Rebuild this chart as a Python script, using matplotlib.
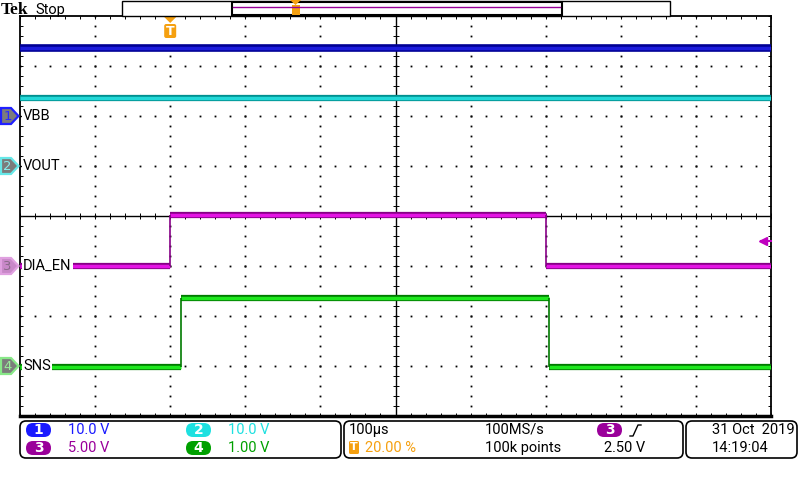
import matplotlib
matplotlib.use('Agg')
import matplotlib.pyplot as plt
import matplotlib.transforms as mtransforms
from matplotlib.patches import Polygon, FancyBboxPatch, Rectangle
import numpy as np

# scope settings: 100 us/div, trigger at 20 % -> -200..800 us
t_span = [-200, 800]
names = ['VBB', 'VOUT', 'DIA_EN', 'SNS']
volts_per_div = [10.0, 10.0, 5.00, 1.00]
offset_div = [2, 1, -1, -3]
scale_text = ['10.0 V', '10.0 V', '5.00 V', '1.00 V']

# traces: edge times (us) and levels (V) between them
ch1_t = [-200, 800]
ch1_v = [13.6]
ch2_t = [-200, 800]
ch2_v = [13.6]
ch3_t = [-200, 0, 500, 800]
ch3_v = [0.0, 5.1, 0.0]
ch4_t = [-200, 14, 504, 800]
ch4_v = [-0.02, 1.36, -0.02]
trig_level = 2.50  # on ch3

bright = ['#1c1cdc', '#22d8d8', '#e414e4', '#1ee81e']
dark = ['#000094', '#008f8f', '#860086', '#007a00']
badge = ['#1a1aff', '#1ee0e0', '#9a009a', '#00a000']
orange = '#f5a010'

fig = plt.figure(figsize=(8, 4.8), dpi=100)
ax = fig.add_axes([20 / 800, 1 - 416 / 480, 751 / 800, 400 / 480])
ax.set_xlim(*t_span)
ax.set_ylim(-4, 4)

# graticule: dotted division lines, solid centre cross
dot = dict(ls='none', marker='s', ms=1.3, mew=0, color='black', zorder=1)
for xd in range(-100, 800, 100):
    if xd == 300:
        continue
    yy = np.arange(-4, 4.01, 0.2)
    ax.plot([xd] * len(yy), yy, **dot)
for yd in range(-3, 4):
    if yd == 0:
        continue
    xx = np.arange(-200, 801, 20)
    ax.plot(xx, [yd] * len(xx), **dot)
ax.axhline(0, color='black', lw=1, zorder=1)
ax.axvline(300, color='black', lw=1, zorder=1)
xx = np.arange(-200, 801, 20)
ax.plot(xx, [0] * len(xx), ls='none', marker='|', ms=5, mew=0.7, color='black', zorder=1)
yy = np.arange(-4, 4.01, 0.2)
ax.plot([300] * len(yy), yy, ls='none', marker='_', ms=5, mew=0.7, color='black', zorder=1)

ax.set_xticks(np.arange(-200, 801, 20))
ax.set_yticks(np.arange(-4, 4.01, 0.2))
ax.tick_params(direction='in', length=2, width=0.7, top=True, right=True,
               labelbottom=False, labelleft=False)
for s in ax.spines.values():
    s.set_linewidth(1.3)
ax.spines['bottom'].set_linewidth(2.5)


def trace(t, v, k):
    t = np.asarray(t, dtype=float)
    y = np.asarray(v) / volts_per_div[k] + offset_div[k]
    ax.hlines(y, t[:-1], t[1:], color=dark[k], lw=5.5 if k == 0 else 4.5, zorder=3)
    ax.hlines(y, t[:-1], t[1:], color=bright[k], lw=2.5, zorder=3)
    if len(y) > 1:
        ax.vlines(t[1:-1], y[:-1], y[1:], color=dark[k], lw=1.2, zorder=3)


for k, (t, v) in enumerate([(ch1_t, ch1_v), (ch2_t, ch2_v), (ch3_t, ch3_v), (ch4_t, ch4_v)]):
    trace(t, v, k)

# channel names on the graticule
blend = mtransforms.blended_transform_factory(ax.transAxes, ax.transData)
for k, nm in enumerate(names):
    ax.text(0.004, offset_div[k], nm, transform=blend, ha='left', va='center',
            fontsize=10.5, family='Roboto', color='black', zorder=5,
            bbox=dict(facecolor='white', edgecolor='none', pad=1.0))

# trigger level arrow (right edge)
ty = trig_level / volts_per_div[2] + offset_div[2]
ax.plot([0.987, 1.0], [ty, ty], transform=blend, color='#c000c0', lw=1.5, clip_on=False, zorder=5)
ax.plot([0.99], [ty], transform=blend, marker='<', ms=6, color='#c000c0', clip_on=False, zorder=5)

# overlay in pixel coordinates
ov = fig.add_axes([0, 0, 1, 1])
ov.set_xlim(0, 800)
ov.set_ylim(480, 0)
ov.axis('off')
ov.patch.set_alpha(0)
ov.set_zorder(5)


def px(t):
    return 20 + (t - t_span[0]) / (t_span[1] - t_span[0]) * 751


def py(d):
    return 216 - d * 50


# channel ground markers on the left
mfill = ['#7c7c7c', '#7c7c7c', '#c888c8', '#7c7c7c']
medge = ['#2020ff', '#66e8e8', '#e0a0e0', '#88e888']
mnum = ['#2a2aff', '#88eeee', '#8a6a8a', '#99ee99']
for k in range(4):
    y = py(offset_div[k])
    ov.add_patch(Polygon([(1, y - 8), (11, y - 8), (18.5, y), (11, y + 8), (1, y + 8)],
                         closed=True, facecolor=mfill[k], edgecolor=medge[k], lw=1.6))
    ov.text(7.5, y + 0.5, str(k + 1), ha='center', va='center', fontsize=9.5,
            family='DejaVu Sans', color=mnum[k])

# trigger position marker
tx = px(0)
ov.add_patch(Polygon([(tx - 6, 17), (tx + 6, 17), (tx, 23)], closed=True,
                     facecolor=orange, edgecolor='none'))
ov.add_patch(FancyBboxPatch((tx - 6, 24), 12, 14, boxstyle='round,pad=0,rounding_size=2',
                            facecolor=orange, edgecolor='none'))
ov.text(tx, 31.5, 'T', ha='center', va='center', color='white', fontsize=9,
        fontweight='bold', family='DejaVu Sans')

# top status line
ov.text(1, 14, 'Tek', ha='left', va='baseline', fontsize=12.5, fontweight='bold',
        family='Liberation Serif', color='black')
ov.text(35, 14, 'Stop', ha='left', va='baseline', fontsize=10.5, family='Roboto', color='black')
ov.add_patch(Rectangle((122, 0.5), 548, 15, facecolor='white', edgecolor='black', lw=1))
ov.add_patch(Rectangle((232, 1.5), 330, 13, facecolor='white', edgecolor='black', lw=1.5))
ov.plot([233, 560], [7, 7], color='#990099', lw=1)
ov.add_patch(Polygon([(290, 0), (301, 0), (295.5, 5)], closed=True, facecolor=orange, edgecolor='none'))
ov.add_patch(Rectangle((291.5, 5), 8, 10, facecolor=orange, edgecolor='none'))

# bottom readout panels
for x0, w in [(20, 321), (344, 339), (686, 111)]:
    ov.add_patch(FancyBboxPatch((x0, 421), w, 37, boxstyle='round,pad=0,rounding_size=6',
                                facecolor='white', edgecolor='black', lw=1.2))


def pill(x, y, num, col):
    ov.add_patch(FancyBboxPatch((x, y - 7), 25, 14, boxstyle='round,pad=0,rounding_size=7',
                                facecolor=col, edgecolor='none'))
    ov.text(x + 12.5, y + 0.5, num, ha='center', va='center', color='white',
            fontsize=10, fontweight='bold', family='DejaVu Sans')


rows = [(26, 430), (186, 430), (26, 448), (186, 448)]
for k, (x, y) in enumerate(rows):
    pill(x, y, str(k + 1), badge[k])
    ov.text(x + 42, y, scale_text[k], ha='left', va='center', fontsize=10.5,
            family='Roboto', color=badge[k])

tf = dict(ha='left', va='center', fontsize=10.5, family='Roboto', color='black')
ov.text(349, 430, '100µs', **tf)
ov.add_patch(FancyBboxPatch((349, 441), 10, 13, boxstyle='round,pad=0,rounding_size=1.5',
                            facecolor=orange, edgecolor='none'))
ov.text(354, 447.5, 'T', ha='center', va='center', color='white', fontsize=8,
        fontweight='bold', family='DejaVu Sans')
ov.text(365, 448, '20.00 %', ha='left', va='center', fontsize=10.5, family='Roboto', color=orange)
ov.text(485, 430, '100MS/s', **tf)
ov.text(485, 448, '100k points', **tf)
pill(597, 430, '3', badge[2])
ov.plot([630, 633, 638, 641], [436, 436, 425, 425], color='black', lw=1)
ov.text(604, 448, '%.2f V' % trig_level, **tf)
ov.text(712, 430, '31 Oct  2019', **tf)
ov.text(712, 448, '14:19:04', **tf)

fig.savefig('out.png', dpi=100)
